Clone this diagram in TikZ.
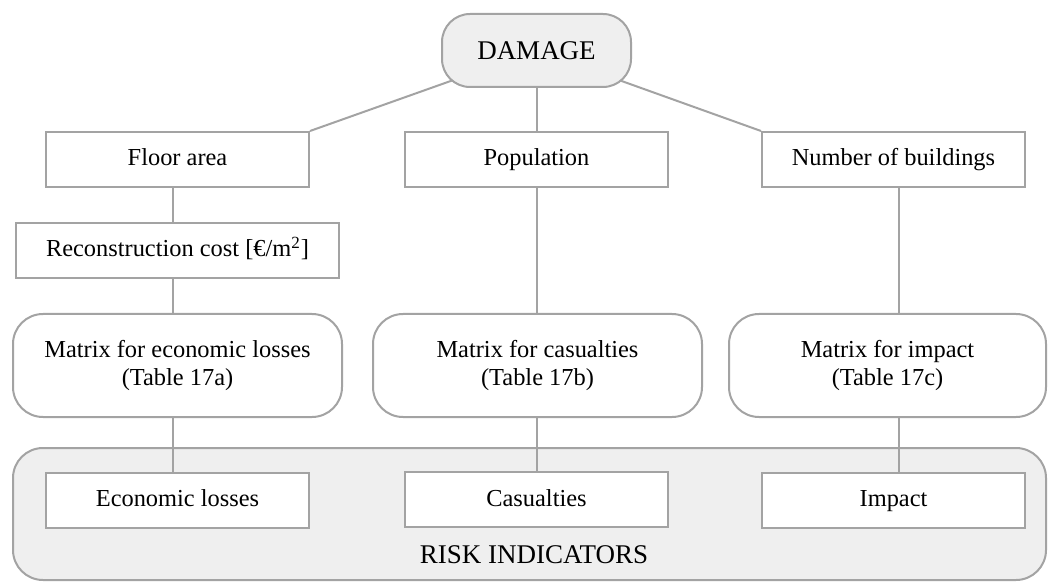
\documentclass[tikz,border=0pt]{standalone}
\usepackage{fontspec}
\setmainfont{Liberation Serif}
\usetikzlibrary{backgrounds}
\definecolor{edgegray}{HTML}{A3A3A3}
\definecolor{fillgray}{HTML}{EFEFEF}
\tikzset{
  every node/.style={font=\fontsize{12.2}{14}\selectfont, inner sep=0pt, align=center},
  plainbox/.style={draw=edgegray, line width=1pt, fill=white, minimum width=131.5pt, minimum height=27.5pt, text height=9pt, text depth=2.5pt},
  matbox/.style={draw=edgegray, line width=1pt, fill=white, rounded corners=15pt, minimum height=51.5pt},
  topbox/.style={draw=edgegray, line width=1pt, fill=fillgray, rounded corners=14pt, minimum width=94.5pt, minimum height=36.5pt, font=\fontsize{13.5}{16}\selectfont},
  riskbox/.style={draw=edgegray, line width=1pt, fill=fillgray, rounded corners=15pt},
  conn/.style={draw=edgegray, line width=1pt}
}
\begin{document}
\begin{tikzpicture}[x=0.5pt,y=-0.5pt]
\useasboundingbox (0,0) rectangle (1048,582);
% risk indicators panel
\draw[riskbox] (13,448) rectangle (1046,580);
\node[font=\fontsize{13.5}{16}\selectfont] (risk) at (534,555) {RISK INDICATORS};
% nodes
\node[topbox] (damage) at (536.5,50.5) {DAMAGE};
\node[plainbox] (fa) at (177.5,159.5) {Floor area};
\node[plainbox] (pop) at (536.5,159.5) {Population};
\node[plainbox] (nb) at (893.5,159.5) {Number of buildings};
\node[plainbox, minimum width=161.5pt] (rc) at (177.5,250.5) {Reconstruction cost [€/m\textsuperscript{2}]};
\node[matbox, minimum width=164.5pt] (me) at (177.5,365.5) {Matrix for economic losses\\(Table 17a)};
\node[matbox, minimum width=164.5pt] (mc) at (537.5,365.5) {Matrix for casualties\\(Table 17b)};
\node[matbox, minimum width=158.5pt] (mi) at (887.5,365.5) {Matrix for impact\\(Table 17c)};
\node[plainbox] (el) at (177.5,500) {Economic losses};
\node[plainbox] (ca) at (536.5,499.5) {Casualties};
\node[plainbox] (im) at (893.5,500) {Impact};
% connectors
\begin{scope}[on background layer]
\draw[conn] (fa.north east) -- (damage.center);
\draw[conn] (nb.north west) -- (damage.center);
\end{scope}
\draw[conn] (damage.south) -- (pop.north);
\draw[conn] ([xshift=-2.25pt]fa.south) -- ([xshift=-2.25pt]fa.south |- rc.north);
\draw[conn] ([xshift=-2.25pt]rc.south) -- ([xshift=-2.25pt]rc.south |- me.north);
\draw[conn] ([xshift=-2.25pt]me.south -| rc.south) -- ([xshift=-2.25pt]rc.south |- el.north);
\draw[conn] (pop.south) -- (pop.south |- mc.north);
\draw[conn] (mc.south -| pop.south) -- (ca.north);
\draw[conn] ([xshift=2.75pt]nb.south) -- ([xshift=2.75pt]nb.south |- mi.north);
\draw[conn] ([xshift=2.75pt]mi.south -| nb.south) -- ([xshift=2.75pt]im.north);
\end{tikzpicture}
\end{document}
